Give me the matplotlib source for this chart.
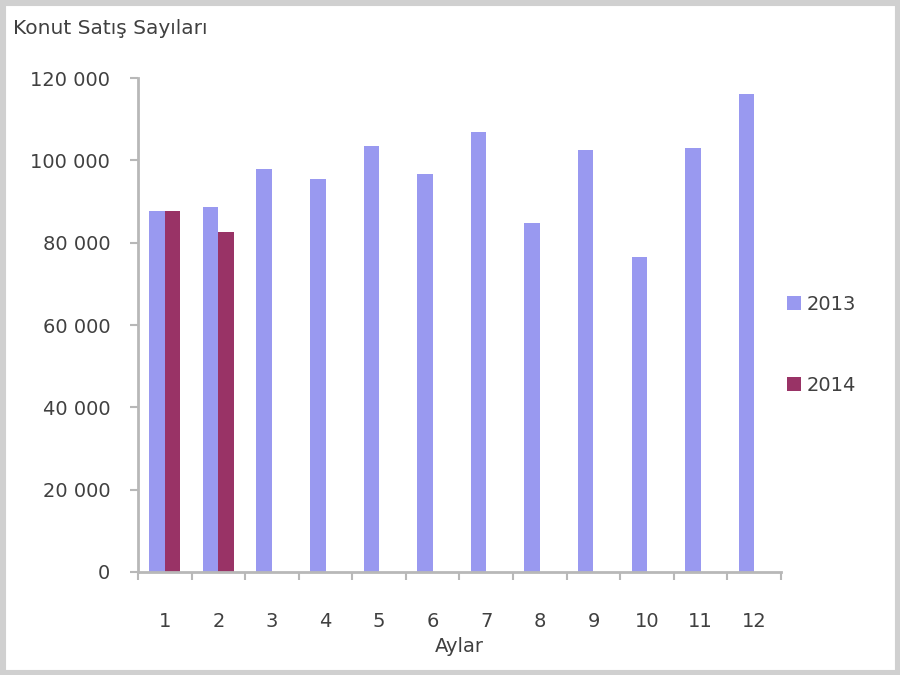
import matplotlib
matplotlib.use("Agg")
import matplotlib.pyplot as plt
import numpy as np
from matplotlib.patches import Rectangle

months = ["1", "2", "3", "4", "5", "6", "7", "8", "9", "10", "11", "12"]
sales_2013 = [87700, 88700, 97800, 95500, 103500, 96700, 107000, 84800, 102500, 76500, 102900, 116200]
sales_2014 = [87600, 82500]
series_names = ["2013", "2014"]
yticks = [0, 20000, 40000, 60000, 80000, 100000, 120000]
ytick_labels = ["0", "20 000", "40 000", "60 000", "80 000", "100 000", "120 000"]
title = "Konut Satış Sayıları"
xlabel = "Aylar"

c2013 = "#9999F0"
c2014 = "#993366"
txt = "#404040"
axcol = "#b8b8b8"
fs = 14

fig = plt.figure(figsize=(9, 6.75), dpi=100)
fig.patch.set_facecolor("white")
ax = fig.add_axes([0.1533, 0.1526, 0.7145, 0.7318])

x = np.arange(len(months))
w = 0.29
ax.bar(x[:len(sales_2013)] - w / 2, sales_2013, width=w, color=c2013, label=series_names[0])
ax.bar(x[:len(sales_2014)] + w / 2, sales_2014, width=w, color=c2014, label=series_names[1])

ax.set_xlim(-0.5, len(months) - 0.5)
ax.set_ylim(0, 120000)
ax.set_yticks(yticks)
ax.set_yticklabels(ytick_labels)
ax.set_xticks(x)
ax.set_xticklabels(months)
ax.set_xticks(np.arange(-0.5, len(months)), minor=True)
ax.tick_params(axis="x", which="major", length=0, pad=29, labelsize=fs, labelcolor=txt)
ax.tick_params(axis="x", which="minor", length=6, width=1.5, color=axcol, direction="out")
ax.tick_params(axis="y", length=6, width=1.5, color=axcol, pad=14, labelsize=fs, labelcolor=txt)

for s in ["top", "right"]:
    ax.spines[s].set_visible(False)
for s in ["left", "bottom"]:
    ax.spines[s].set_color(axcol)
    ax.spines[s].set_linewidth(2)

ax.set_xlabel(xlabel, fontsize=fs, color=txt, labelpad=4)

fig.text(0.014, 0.958, title, fontsize=14.5, color=txt, ha="left", va="center")

leg = ax.legend(loc="center left", bbox_to_anchor=(0.855, 0.489), bbox_transform=fig.transFigure,
                frameon=False, fontsize=fs, handlelength=0.7, handleheight=0.7,
                labelspacing=3.2, handletextpad=0.3, labelcolor=txt)

fig.patches.append(Rectangle((0, 0), 1, 1, transform=fig.transFigure, fill=False,
                             edgecolor="#d0d0d0", linewidth=8, zorder=10))

fig.savefig("out.png", dpi=100)
